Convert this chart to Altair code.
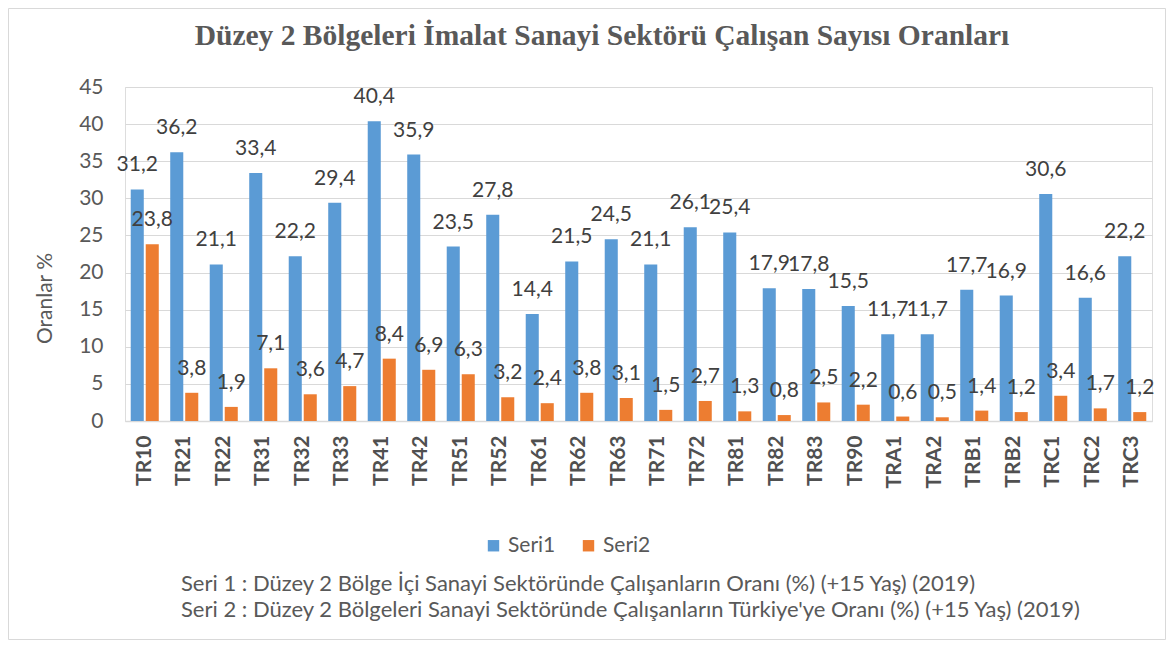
import altair as alt
import pandas as pd

regions = ["TR10", "TR21", "TR22", "TR31", "TR32", "TR33", "TR41", "TR42", "TR51", "TR52",
           "TR61", "TR62", "TR63", "TR71", "TR72", "TR81", "TR82", "TR83", "TR90", "TRA1",
           "TRA2", "TRB1", "TRB2", "TRC1", "TRC2", "TRC3"]
seri1 = [31.2, 36.2, 21.1, 33.4, 22.2, 29.4, 40.4, 35.9, 23.5, 27.8,
         14.4, 21.5, 24.5, 21.1, 26.1, 25.4, 17.9, 17.8, 15.5, 11.7,
         11.7, 17.7, 16.9, 30.6, 16.6, 22.2]
seri2 = [23.8, 3.8, 1.9, 7.1, 3.6, 4.7, 8.4, 6.9, 6.3, 3.2,
         2.4, 3.8, 3.1, 1.5, 2.7, 1.3, 0.8, 2.5, 2.2, 0.6,
         0.5, 1.4, 1.2, 3.4, 1.7, 1.2]
series_names = ["Seri1", "Seri2"]
series_colors = ["#5B9BD5", "#ED7D31"]
y_ticks = [0, 5, 10, 15, 20, 25, 30, 35, 40, 45]
title_text = "Düzey 2 Bölgeleri İmalat Sanayi Sektörü Çalışan Sayısı Oranları"
note1 = "Seri 1 : Düzey 2 Bölge İçi Sanayi Sektöründe Çalışanların Oranı (%) (+15 Yaş) (2019)"
note2 = "Seri 2 : Düzey 2 Bölgeleri Sanayi Sektöründe Çalışanların Türkiye'ye Oranı (%) (+15 Yaş) (2019)"

rows = []
for r, a, b in zip(regions, seri1, seri2):
    rows.append({"region": r, "series": series_names[0], "value": a})
    rows.append({"region": r, "series": series_names[1], "value": b})
df = pd.DataFrame(rows)

W, H = 1027, 334
FONT = "Lato"
GRAY = "#595959"

x_enc = alt.X("region:N", sort=regions, title=None,
              scale=alt.Scale(paddingInner=0.29, paddingOuter=0.145),
              axis=alt.Axis(labelAngle=-90, labelFontWeight="bold", labelFontSize=21,
                            labelColor="#505050", labelFont=FONT, labelPadding=14,
                            ticks=False, domainColor="#d9d9d9", domainWidth=1.5, grid=False))
xoff = alt.XOffset("series:N", scale=alt.Scale(domain=series_names, paddingInner=0.13))
y_enc = alt.Y("value:Q", title="Oranlar %",
              scale=alt.Scale(domain=[0, 45], nice=False),
              axis=alt.Axis(values=y_ticks, labelOverlap=False, labelFontSize=21,
                            labelColor=GRAY, labelFont=FONT, labelPadding=22, ticks=False,
                            domain=False, grid=True, gridColor="#d9d9d9", titleFontSize=21,
                            titleFont=FONT, titleColor=GRAY, titleFontWeight="normal",
                            titleX=-80, titleY=211, titleAngle=-90, titleAlign="center",
                            titleBaseline="middle"))

base = alt.Chart(df)
bars = base.mark_bar().encode(
    x=x_enc, xOffset=xoff, y=y_enc,
    color=alt.Color("series:N", scale=alt.Scale(domain=series_names, range=series_colors),
                    legend=alt.Legend(title=None, orient="none", direction="horizontal",
                                      legendX=358, legendY=448, symbolType="square",
                                      symbolSize=130, symbolStrokeWidth=0, labelFontSize=21,
                                      labelFont=FONT, labelColor=GRAY, columnPadding=22,
                                      labelOffset=4, symbolOpacity=1)),
)
labels = base.transform_calculate(
    lbl="replace(format(datum.value, '.1f'), '.', ',')"
).mark_text(baseline="middle", dy=-24, fontSize=21, font=FONT, color="#404040").encode(
    x=x_enc, xOffset=xoff, y=y_enc, text="lbl:N"
)

one = alt.Data(values=[{"k": 1}])
title = alt.Chart(one).mark_text(text=title_text, align="center", baseline="alphabetic",
                                 fontSize=29.5, font="Liberation Serif", fontWeight="bold",
                                 color=GRAY).encode(x=alt.value(477), y=alt.value(-42))
n1 = alt.Chart(one).mark_text(text=note1, align="left", baseline="middle", fontSize=22,
                              font=FONT, color=GRAY).encode(x=alt.value(56), y=alt.value(497))
n2 = alt.Chart(one).mark_text(text=note2, align="left", baseline="middle", fontSize=22,
                              font=FONT, color=GRAY).encode(x=alt.value(56), y=alt.value(523))
border = alt.Chart(one).mark_rect(fill="transparent", stroke="#d9d9d9", strokeWidth=1).encode(
    x=alt.value(-116.5), x2=alt.value(W + 13.5), y=alt.value(-78.5), y2=alt.value(H + 218.5)
)

chart = alt.layer(border, bars, labels, title, n1, n2).properties(
    width=W, height=H,
    autosize=alt.AutoSizeParams(type="none"),
    padding={"left": 117, "top": 79, "right": 14, "bottom": 219},
).configure_view(stroke=None).configure(background="white")

chart.save("out.html", embed_options={"renderer": "svg", "actions": False})
